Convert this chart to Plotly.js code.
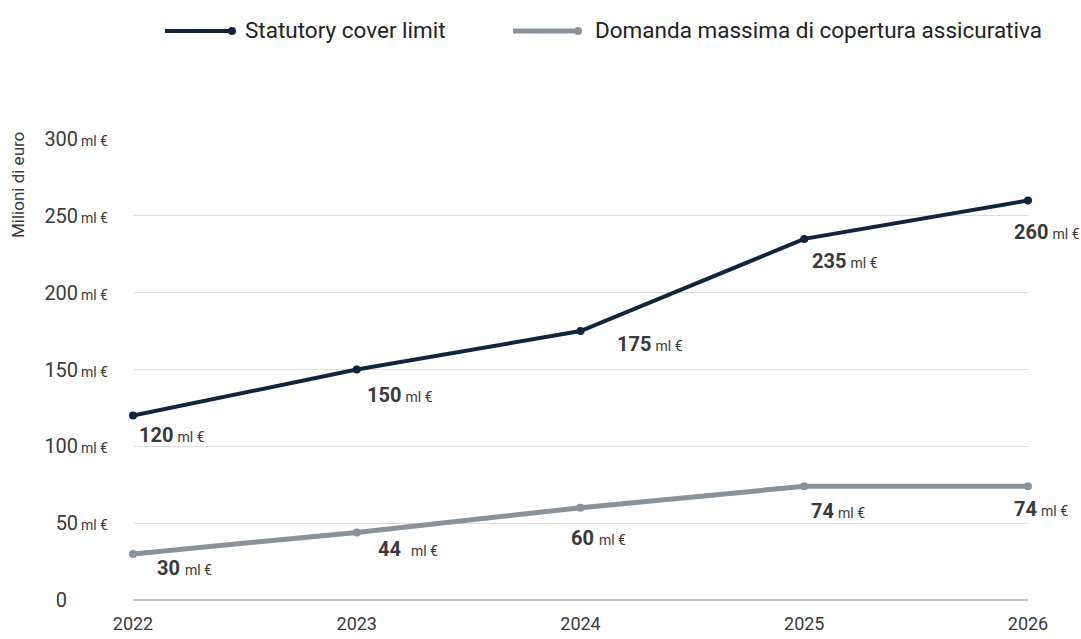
<!DOCTYPE html>
<html><head><meta charset="utf-8">
<script src="https://cdn.plot.ly/plotly-3.0.1.min.js"></script>
<style>body{margin:0;background:#fff}#chart{width:1081px;height:639px}</style>
</head><body><div id="chart"></div>
<script>
const years = [2022, 2023, 2024, 2025, 2026];
const seriesNames = ["Statutory cover limit", "Domanda massima di copertura assicurativa"];
const statutory = [120, 150, 175, 235, 260];
const demand = [30, 44, 60, 74, 74];
const yTicks = [0, 50, 100, 150, 200, 250, 300];
const unit = "ml €";
const colors = ["#10243f", "#87929b"];

// label offsets in pixels (layout only)
const statOff = [[4,19],[8,25],[34,13],[6,22],[-16,32]];
const demOff = [[22,14],[19,17],[-12,30],[5,25],[-16,23]];
const gaps = [["&#8201;","&#8201;","&#8201;","&#8201;","&#8201;"], ["&nbsp;","&nbsp;&nbsp;","&nbsp;","&#8201;","&#8201;"]];

const font = "Roboto, 'Noto Sans', sans-serif";
const txt = "#3a3a3a";

const traces = [
  {x: years, y: statutory, name: seriesNames[0], mode: "lines+markers", cliponaxis: false,
   line: {color: colors[0], width: 4}, marker: {color: colors[0], size: 8}, showlegend: false, hoverinfo: "skip"},
  {x: years, y: demand, name: seriesNames[1], mode: "lines+markers", cliponaxis: false,
   line: {color: colors[1], width: 5}, marker: {color: colors[1], size: 8}, showlegend: false, hoverinfo: "skip"}
];

function py(p) { return (600 - p) / 461; }
function px(p) { return (p - 133) / 895; }

const annotations = [];
function addLabels(vals, offs, gap) {
  vals.forEach((v, i) => {
    annotations.push({x: years[i], y: v, xref: "x", yref: "y", xanchor: "left", yanchor: "middle",
      xshift: offs[i][0], yshift: -offs[i][1], showarrow: false,
      text: "<b>" + v + "</b>" + gap[i] + "<span style='font-size:14px'>" + unit + "</span>",
      font: {family: font, size: 20, color: txt}});
  });
}
addLabels(statutory, statOff, gaps[0]);
addLabels(demand, demOff, gaps[1]);

// y title
annotations.push({xref: "paper", yref: "paper", x: px(18), y: py(185), xanchor: "center", yanchor: "middle",
  textangle: -90, showarrow: false, text: "Milioni di euro", font: {family: font, size: 17, color: txt}});

// legend (drawn manually)
const legend = [[165, 232, 243], [513, 578, 593]];
const shapes = [];
legend.forEach((l, i) => {
  shapes.push({type: "line", xref: "paper", yref: "paper", x0: px(l[0]), x1: px(l[1]), y0: py(31), y1: py(31),
    line: {color: colors[i], width: i === 0 ? 4 : 5}});
  shapes.push({type: "circle", xref: "paper", yref: "paper", xsizemode: "pixel", ysizemode: "pixel",
    xanchor: px(l[1]), yanchor: py(31), x0: -4, x1: 4, y0: -4, y1: 4,
    fillcolor: colors[i], line: {width: 0}});
  annotations.push({xref: "paper", yref: "paper", x: px(l[2]), y: py(30), xanchor: "left", yanchor: "middle",
    showarrow: false, text: seriesNames[i], font: {family: font, size: 22.5, color: "#222"}});
});

const tickText = yTicks.map(v => v === 0 ? "0<span style='font-size:14px;fill:rgba(0,0,0,0)'>&nbsp;ml €&nbsp;&nbsp;&nbsp;</span>"
  : v + "<span style='font-size:14px'>&#8201;" + unit + "</span>");

const layout = {
  width: 1081, height: 639,
  margin: {l: 133, r: 53, t: 139, b: 39},
  paper_bgcolor: "#fff", plot_bgcolor: "#fff",
  showlegend: false,
  font: {family: font, color: txt},
  xaxis: {range: [2022, 2026], tickvals: years, ticktext: years.map(String), showgrid: false, zeroline: false,
    showline: false, ticks: "", tickfont: {family: font, size: 18, color: txt}, ticklabelstandoff: 11, automargin: false},
  yaxis: {range: [0, 300], tickvals: yTicks, ticktext: tickText, showgrid: true, gridcolor: "#dcdcdc", gridwidth: 1,
    zeroline: true, zerolinecolor: "#c4c4c4", zerolinewidth: 2, showline: false, ticks: "",
    tickfont: {family: font, size: 20, color: txt}, ticklabelstandoff: 24, automargin: false},
  shapes: shapes,
  annotations: annotations
};
Plotly.newPlot("chart", traces, layout, {displayModeBar: false, staticPlot: true});
</script></body></html>
